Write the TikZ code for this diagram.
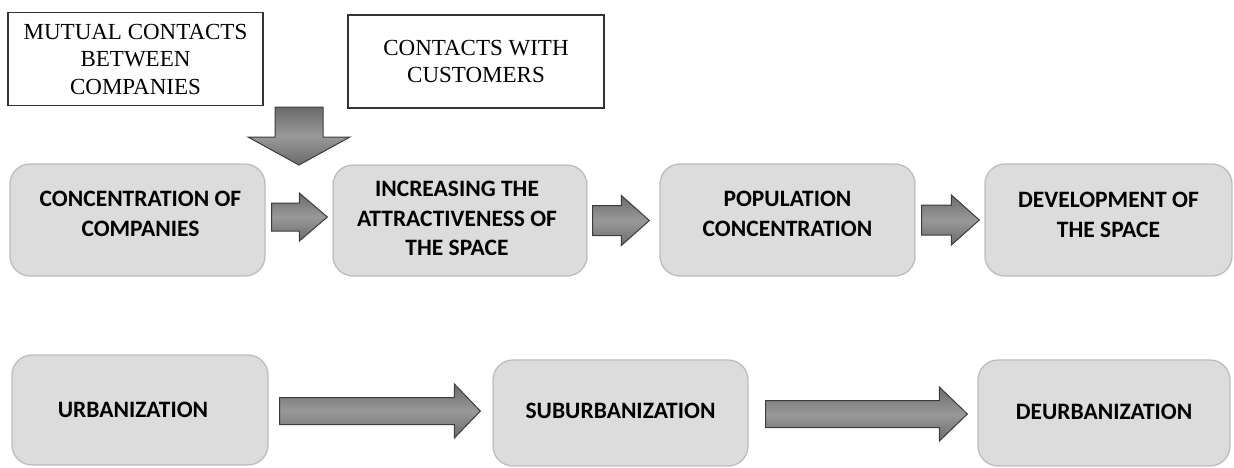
\documentclass[tikz,border=0pt]{standalone}
\usepackage{fontspec}
\setmainfont{Liberation Serif}
\setsansfont{Carlito}
\usetikzlibrary{calc}
\definecolor{boxfill}{HTML}{DCDCDC}
\definecolor{boxline}{HTML}{BDBDBD}
\definecolor{arrline}{HTML}{3C3C3C}
\tikzset{
  topbox/.style={draw=black!80, line width=1.2pt, fill=white, minimum width=#1, minimum height=93pt,
    align=center, font=\fontsize{23}{27.5}\selectfont, inner sep=0pt},
  flowbox/.style={draw=boxline, line width=1.3pt, fill=boxfill, rounded corners=20pt, minimum width=#1, inner sep=0pt},
  ftext/.style={align=center, font=\sffamily\bfseries\fontsize{23.5}{29.5}\selectfont, inner sep=0pt},
  barrow/.style={draw=arrline, line width=1pt, top color=black!58, bottom color=black!58, middle color=black!40}
}
% #1 from node, #2 to node, #3 start gap, #4 end gap, #5 shaft half, #6 head half, #7 head length, #8 y shift
\newcommand\blockarr[8]{%
  \draw[barrow] let \p1=(#1.east), \p2=(#2.west) in
    (\x1+#3pt,\y1+#8pt+#5pt) -- (\x2-#4pt-#7pt,\y1+#8pt+#5pt) -- (\x2-#4pt-#7pt,\y1+#8pt+#6pt)
    -- (\x2-#4pt,\y1+#8pt) -- (\x2-#4pt-#7pt,\y1+#8pt-#6pt) -- (\x2-#4pt-#7pt,\y1+#8pt-#5pt)
    -- (\x1+#3pt,\y1+#8pt-#5pt) -- cycle;}
\begin{document}
\begin{tikzpicture}[x=1pt,y=-1pt]
\useasboundingbox (0,0) rectangle (1234,467);
% top boxes
\node[topbox=255pt] (mut) at (135.5,59) {MUTUAL CONTACTS\\BETWEEN\\COMPANIES};
\node[topbox=256pt] (cus) at (476,61.5) {CONTACTS WITH\\CUSTOMERS};
% row 1
\node[flowbox=255pt, minimum height=112pt] (conc) at (137.5,220) {};
\node[flowbox=254pt, minimum height=111pt] (attr) at (460,220.5) {};
\node[flowbox=255pt, minimum height=112pt] (pop) at (787.5,220) {};
\node[flowbox=247pt, minimum height=112pt] (dev) at (1108.5,220) {};
\node[ftext] (concT) at ($(conc)+(3,-6)$) {CONCENTRATION OF\\COMPANIES};
\node[ftext] (attrT) at ($(attr)+(-3,-2)$) {INCREASING THE\\ATTRACTIVENESS OF\\THE SPACE};
\node[ftext] (popT) at ($(pop)+(0,-6)$) {POPULATION\\CONCENTRATION};
\node[ftext] (devT) at ($(dev)+(0,-5)$) {DEVELOPMENT OF\\THE SPACE};
% row 2
\node[flowbox=256pt, minimum height=110pt] (urb) at (140,410) {};
\node[flowbox=255pt, minimum height=106pt] (sub) at (620.5,413) {};
\node[flowbox=252pt, minimum height=106pt] (deu) at (1104,413) {};
\node[ftext] (urbT) at ($(urb)+(-7,0)$) {URBANIZATION};
\node[ftext] (subT) at ($(sub)+(0,-2)$) {SUBURBANIZATION};
\node[ftext] (deuT) at ($(deu)+(0,-1)$) {DEURBANIZATION};
% down arrow
\coordinate (dtop) at (299,107);
\coordinate (dtip) at (299,165);
\draw[barrow] ($(dtop)+(-24,0)$) -- ($(dtop)+(24,0)$) -- ($(dtop)+(24,30)$) -- ($(dtop)+(51,30)$)
  -- (dtip) -- ($(dtop)+(-51,30)$) -- ($(dtop)+(-24,30)$) -- cycle;
% row 1 arrows
\blockarr{conc}{attr}{6}{5}{14}{24}{28}{3}
\blockarr{attr}{pop}{5}{10}{15}{25}{28}{0}
\blockarr{pop}{dev}{6}{5}{15}{25}{28}{0}
% row 2 arrows
\blockarr{urb}{sub}{11}{12}{13.5}{27}{26}{-1}
\blockarr{sub}{deu}{17}{10}{13.5}{27}{28}{-1}
\end{tikzpicture}
\end{document}
